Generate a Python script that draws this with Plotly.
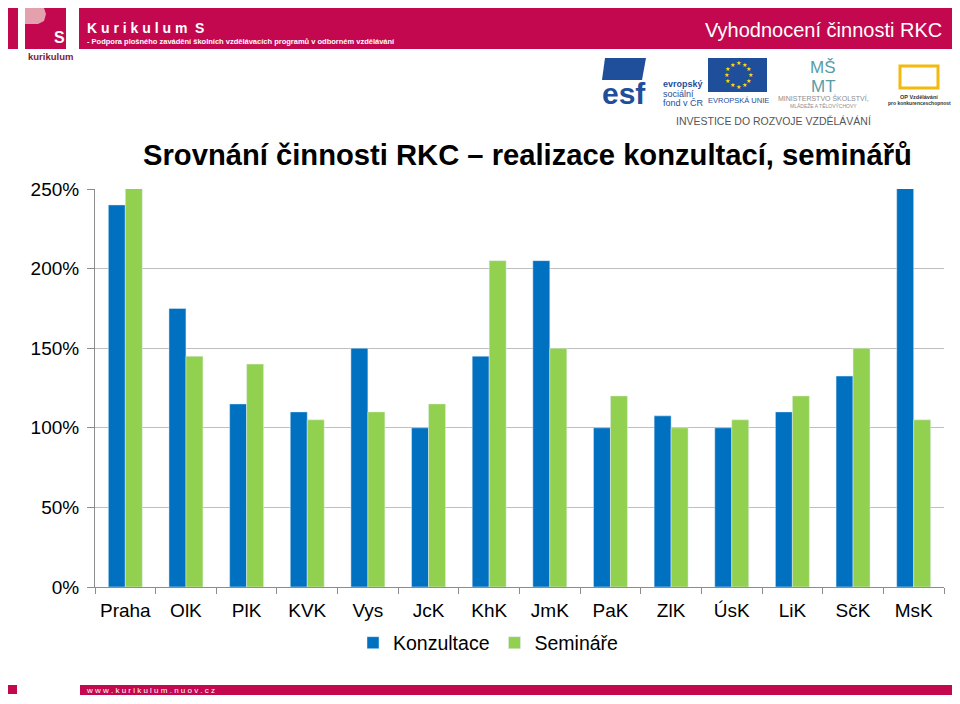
import math
import plotly.graph_objects as go

# data (percent of plan)
regions = ["Praha", "OlK", "PlK", "KVK", "Vys", "JcK", "KhK",
           "JmK", "PaK", "ZlK", "ÚsK", "LiK", "SčK", "MsK"]
konzultace = [240, 175, 115, 110, 150, 100, 145, 205, 100, 107.5, 100, 110, 132.5, 290]
seminare = [260, 145, 140, 105, 110, 115, 205, 150, 120, 100, 105, 120, 150, 105]

BLUE = "#0070C0"
GREEN = "#92D050"
CRIMSON = "#C4084F"
W, H = 960, 704
OFF = 8  # page body margin
F = "Liberation Sans, Arial, sans-serif"


def px_x(x):
    return (x - OFF) / W


def px_y(y):
    return 1 - (y - OFF) / H


fig = go.Figure()
fig.add_trace(go.Bar(x=regions, y=konzultace, name="Konzultace", marker_color=BLUE))
fig.add_trace(go.Bar(x=regions, y=seminare, name="Semináře", marker_color=GREEN))


def rect(x0, y0, x1, y1, color, line=None):
    return dict(type="rect", xref="paper", yref="paper", layer="below",
                x0=px_x(x0), x1=px_x(x1), y0=px_y(y0), y1=px_y(y1),
                fillcolor=color, line=line or dict(width=0))


def path(points, color):
    d = "M " + " L ".join(f"{px_x(a):.5f} {px_y(b):.5f}" for a, b in points) + " Z"
    return dict(type="path", xref="paper", yref="paper", layer="below", path=d,
                fillcolor=color, line=dict(width=0))


shapes = [
    # header
    rect(8, 8, 18, 49, CRIMSON),
    rect(25, 8, 66, 49, CRIMSON),
    path([(25, 8), (44, 8), (46, 14), (44, 21), (38, 24), (25, 24)], "#E3A1AE"),
    rect(79, 8, 953, 49, CRIMSON),
    # ESF logo
    path([(605, 58), (646, 58), (642, 80), (602, 80)], "#1F4E9A"),
    # EU flag
    rect(708, 58, 767, 92, "#1F4E9A"),
    # OP logo
    rect(900, 66, 938, 88, "rgba(0,0,0,0)", dict(color="#F2B90F", width=3)),
    # footer
    rect(8, 685, 17, 694, CRIMSON),
    rect(80, 685, 953, 695, CRIMSON),
]


def txt(x, y, t, size, color, anchor="left", bold=False):
    return dict(x=px_x(x), y=px_y(y), xref="paper", yref="paper",
                text=f"<b>{t}</b>" if bold else t,
                showarrow=False, xanchor=anchor, yanchor="middle",
                font=dict(family=F, size=size, color=color))


annotations = [
    txt(67, 38, "S", 16, "white", "right", True),
    txt(26, 57, "kurikulum", 9.5, "#7A1B3B", bold=True),
    txt(85, 28, "K u r i k u l u m  S", 14, "white", bold=True),
    txt(85, 41, "- Podpora plošného zavádění školních vzdělávacích programů v odborném vzdělávání",
        7.5, "white", bold=True),
    txt(944, 30, "Vyhodnocení činnosti RKC", 20, "white", "right"),
    txt(600, 93, "<b>esf</b>", 30, "#1F4E9A"),
    txt(661, 84, "evropský", 9, "#1F4E9A", bold=True),
    txt(661, 94, "sociální", 9, "#1F4E9A"),
    txt(661, 103, "fond v ČR", 9, "#1F4E9A"),
    txt(738, 101, "EVROPSKÁ UNIE", 7.5, "#1F4E9A", "center"),
    txt(823, 68, "MŠ", 17, "#5A9CA6", "center"),
    txt(823, 86, "MT", 17, "#5A9CA6", "center"),
    txt(823, 98, "MINISTERSTVO ŠKOLSTVÍ,", 7, "#8C8C8C", "center"),
    txt(823, 105, "MLÁDEŽE A TĚLOVÝCHOVY", 5, "#8C8C8C", "center"),
    txt(919, 97, "OP Vzdělávání", 5.5, "#333333", "center", True),
    txt(919, 103, "pro konkurenceschopnost", 5, "#333333", "center", True),
    txt(773, 121, "INVESTICE DO ROZVOJE VZDĚLÁVÁNÍ", 10.5, "#555555", "center"),
    txt(84, 690, "w w w . k u r i k u l u m . n u o v . c z", 8, "white"),
    txt(527, 155, "Srovnání činnosti RKC – realizace konzultací, seminářů", 29.2, "black",
        "center", True),
]
# EU stars
for i in range(12):
    a = 2 * math.pi * i / 12
    annotations.append(txt(738 + 12 * math.cos(a), 75 + 12 * math.sin(a), "★", 6,
                           "#FFDD00", "center"))

fig.update_layout(
    width=W, height=H,
    margin=dict(l=0, r=0, t=0, b=0),
    paper_bgcolor="white", plot_bgcolor="rgba(0,0,0,0)",
    font=dict(family=F, size=19, color="black"),
    barmode="group", bargap=0.44, bargroupgap=0,
    shapes=shapes, annotations=annotations,
    legend=dict(orientation="h", x=px_x(488), xanchor="center", y=px_y(643),
                yanchor="middle", font=dict(size=19.5), itemwidth=30,
                traceorder="normal"),
    xaxis=dict(domain=[px_x(95), px_x(944)], showgrid=False, showline=True,
               linecolor="#8C8C8C", ticks="outside", tickson="boundaries",
               tickcolor="#8C8C8C", ticklen=6, tickfont=dict(size=19), tickangle=0,
               ticklabelstandoff=6, automargin=False),
    yaxis=dict(domain=[px_y(587), px_y(189)], range=[0, 250], dtick=50, ticksuffix="%",
               showgrid=True, gridcolor="#BFBFBF", showline=True, linecolor="#8C8C8C",
               ticks="outside", tickcolor="#8C8C8C", ticklen=7, zeroline=False,
               ticklabelstandoff=4, tickfont=dict(size=19), automargin=False),
)

fig.write_html("out.html")
